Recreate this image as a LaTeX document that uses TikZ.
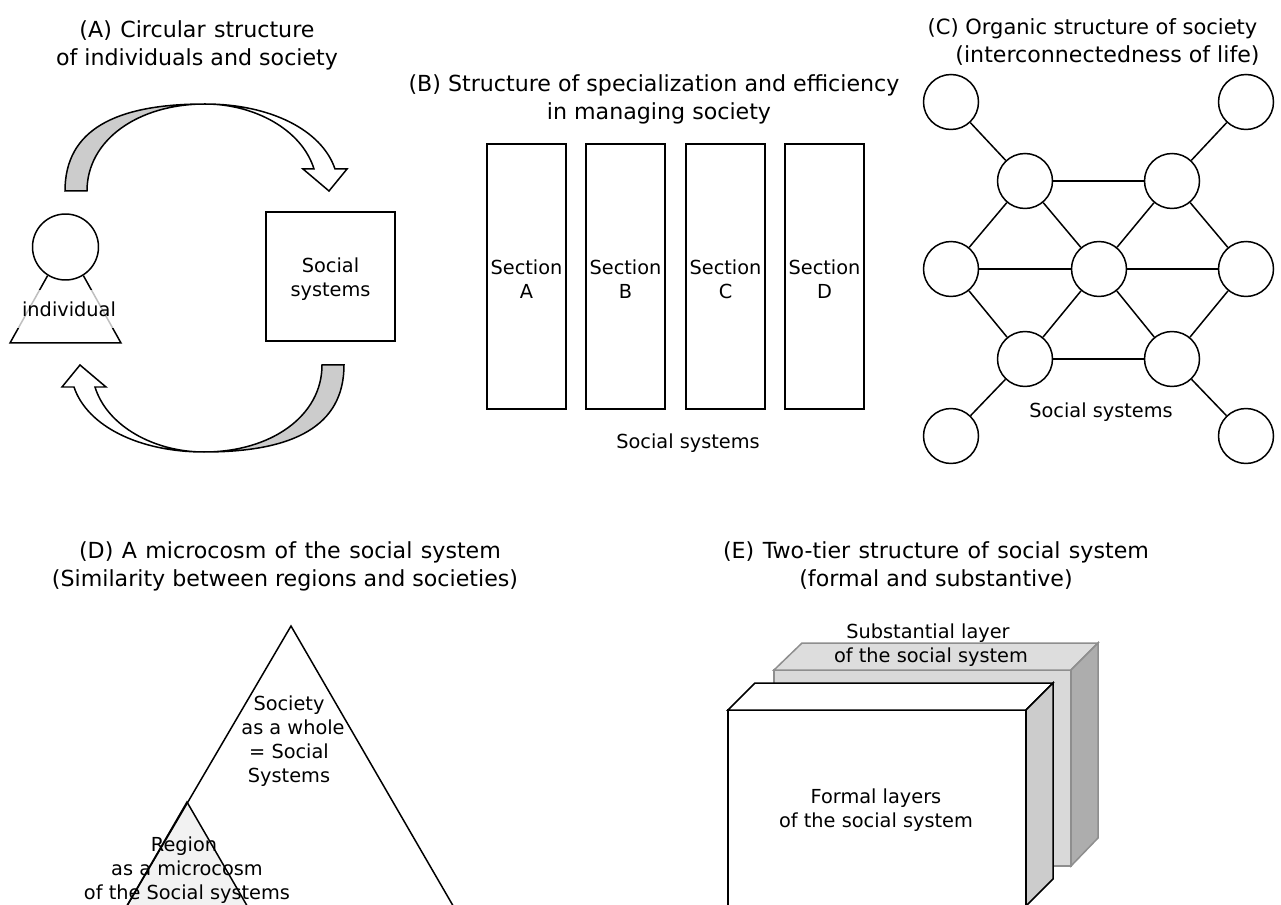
\documentclass[tikz,border=0pt]{standalone}
\usepackage{fontspec}
\setmainfont{DejaVu Sans}
\definecolor{arrowgray}{HTML}{CCCCCC}
\definecolor{backedge}{HTML}{8E8E8E}
\definecolor{backface}{HTML}{D9D9D9}
\definecolor{backside}{HTML}{ADADAD}
\definecolor{regionfill}{HTML}{F2F2F2}
\newcommand{\lowerstrut}{\rule{0pt}{0.415cm}}
\newcommand{\widewords}{\spaceskip=1.2\fontdimen2\font\relax}
\tikzset{
    heading/.style={align=center, inner sep=0pt, font=\fontsize{12.6pt}{0.56cm}\selectfont},
    caption/.style={align=center, inner sep=0pt, font=\fontsize{11pt}{0.48cm}\selectfont},
    section/.style={draw, minimum width=1.58cm, minimum height=5.3cm, inner sep=0pt, caption},
    member/.style={draw, circle, fill=white, minimum size=1.1cm, inner sep=0pt},
}
\begin{document}
\begin{tikzpicture}[x=0.02cm, y=-0.02cm, line width=0.03cm]
    \useasboundingbox (0,0) rectangle (1281,905);
    \clip (0,0) rectangle (1281,905);

    % (A) Circular structure
    \node[heading] (titleA) at (197,45) {\widewords (A) Circular structure\\of individuals and society};
    \foreach \ang in {0,180} {
        \begin{scope}[rotate around={\ang:(204.5,278)}]
            \fill[arrowgray] (65,191) .. controls (65,130) and (115,104) .. (205,104)
                .. controls (138,104) and (87,140) .. (87,191) -- cycle;
            \draw (205,104) .. controls (115,104) and (65,130) .. (65,191) -- (87,191)
                .. controls (87,140) and (138,104) .. (205,104);
            \draw[fill=white] (205,104) .. controls (270,104) and (322,130) .. (335,169)
                -- (347,169) -- (329,191) -- (303,169) -- (314,169)
                .. controls (302,130) and (255,104) .. (205,104) -- cycle;
        \end{scope}
    }
    \coordinate (baseL) at (10,343);
    \coordinate (baseR) at (121,343);
    \node[draw, circle, minimum size=1.32cm, inner sep=0pt] (head) at (65.5,247) {};
    \draw (head.-122) -- (baseL) -- (baseR) -- (head.-58);
    \node[caption, fill=white, fill opacity=0.75, text opacity=1, minimum width=2.44cm,
        minimum height=0.76cm] (individual) at (69,309) {individual};
    \node[draw, minimum size=2.58cm, caption] (systemsA) at (330.5,276.5) {\lowerstrut Social\\systems};

    % (B) Specialization
    \node[heading] (titleB) at (654,99) {(B) Structure of specialization and efficiency\\\hspace*{0.2cm}in managing society};
    \node[section] (secA) at (526.5,276.5) {\lowerstrut Section\\A};
    \node[section] (secB) at (625.5,276.5) {\lowerstrut Section\\B};
    \node[section] (secC) at (725.5,276.5) {\lowerstrut Section\\C};
    \node[section] (secD) at (824.5,276.5) {\lowerstrut Section\\D};
    \node[caption] (systemsB) at (688,443) {Social systems};

    % (C) Organic structure
    \node[heading] (titleC) at (1100,42) {\hspace*{-0.3cm}\fontsize{11.95pt}{0.56cm}\selectfont (C) Organic structure of society\\\hspace*{0.3cm}(interconnectedness of life)};
    \node[member] (tl) at (951,102) {};
    \node[member] (tr) at (1246,102) {};
    \node[member] (ul) at (1025,181) {};
    \node[member] (ur) at (1172,181) {};
    \node[member] (ml) at (951,269) {};
    \node[member] (mc) at (1099,269) {};
    \node[member] (mr) at (1246,269) {};
    \node[member] (ll) at (1025,359) {};
    \node[member] (lr) at (1172,359) {};
    \node[member] (bl) at (951,436) {};
    \node[member] (br) at (1246,436) {};
    \foreach \from/\to in {tl/ul, tr/ur, ul/ur, ul/ml, ul/mc, ur/mc, ur/mr, ml/mc, mc/mr,
        ml/ll, ll/mc, mc/lr, lr/mr, ll/lr, ll/bl, lr/br}
        \draw (\from) -- (\to);
    \node[caption] (systemsC) at (1101,412) {Social systems};

    % (D) Microcosm
    \node[heading] (titleD) at (285,566) {\hspace*{0.2cm}\widewords (D) A microcosm of the social system\\(Similarity between regions and societies)};
    \coordinate (topD) at (291,626);
    \coordinate (leftD) at (110,935);
    \coordinate (rightD) at (470,935);
    \coordinate (topR) at (187,802);
    \coordinate (leftR) at (110,935);
    \coordinate (rightR) at (264,935);
    \draw[fill=regionfill] (topR) -- (leftR) -- (rightR) -- cycle;
    \draw (leftD) -- (topD) -- (rightD);
    \node[caption] (society) at (289,741) {Society\\\hspace*{0.16cm}as a whole\\= Social\\Systems};
    \node[caption] (region) at (187,870) {\hspace*{-0.12cm}Region\\as a microcosm\\of the Social systems};

    % (E) Two-tier structure
    \node[heading] (titleE) at (936,566) {\widewords (E) Two-tier structure of social system\\(formal and substantive)};
    \begin{scope}[draw=backedge]
        \draw[fill=backface] (774,670) rectangle (1071,866);
        \draw[fill=backface!90!white] (774,670) -- (802,643) -- (1098,643) -- (1071,670) -- cycle;
        \draw[fill=backside] (1071,670) -- (1098,643) -- (1098,838) -- (1071,866) -- cycle;
    \end{scope}
    \node[caption] (substantial) at (928,645) {Substantial layer\\\hspace*{0.12cm}of the social system};
    \draw[fill=white] (728,710) rectangle (1026,960);
    \draw[fill=white] (728,710) -- (755,683) -- (1053,683) -- (1026,710) -- cycle;
    \draw[fill=arrowgray] (1026,710) -- (1053,683) -- (1053,879) -- (1026,906) -- cycle;
    \node[caption] (formal) at (876,810) {Formal layers\\of the social system};
\end{tikzpicture}
\end{document}
